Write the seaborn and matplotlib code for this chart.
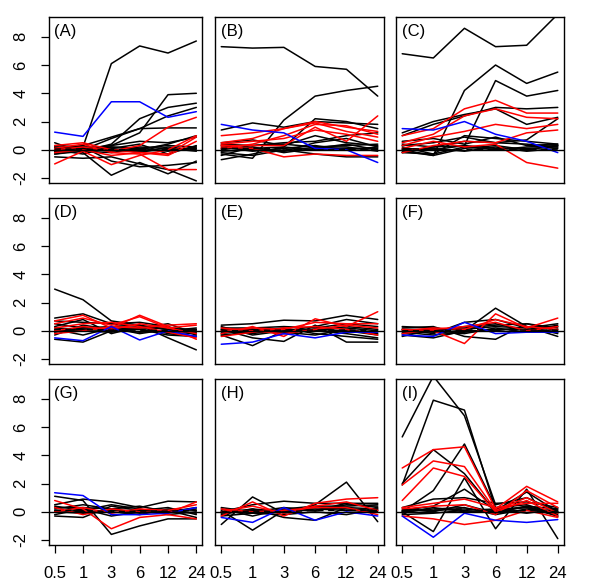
import numpy as np
import pandas as pd
import matplotlib
matplotlib.use("Agg")
import matplotlib.pyplot as plt
import seaborn as sns

# time points (hours) shown on the x axis
times = ["0.5", "1", "3", "6", "12", "24"]
y_ticks = [-2, 0, 2, 4, 6, 8]

# ---- panel A ----
A_black = [
    [-0.1, 0.2, 6.1, 7.35, 6.85, 7.7],
    [0.0, 0.1, 0.3, 1.2, 3.9, 4.0],
    [0.2, -0.1, 0.4, 2.2, 3.0, 3.3],
    [-0.3, 0.0, 0.8, 1.5, 2.4, 3.0],
    [0.1, 0.3, 0.9, 1.5, 1.55, 1.55],
    [0.5, -0.2, -1.8, -0.9, -1.7, -0.8],
    [-0.5, -0.6, -0.5, -1.0, -1.4, -2.2],
    [-0.2, 0.2, -0.8, -1.2, -1.1, -0.9],
    [0.1, 0.0, 0.2, 0.1, 0.3, 0.2],
    [-0.1, 0.1, 0.0, -0.1, 0.0, 0.1],
    [0.3, 0.2, 0.1, 0.4, -0.3, 0.3],
    [0.0, -0.3, 0.2, 0.0, 0.4, 1.0],
    [0.2, 0.1, -0.1, 0.2, 0.1, -0.1],
    [-0.3, -0.1, 0.3, 0.6, 0.5, 0.9],
    [0.0, 0.2, 0.1, -0.2, 0.2, 0.0],
    [0.1, -0.1, -0.2, 0.1, -0.1, 0.2],
]
A_red = [
    [0.0, 0.2, -0.1, 0.3, 1.6, 2.3],
    [-1.0, -0.1, -1.05, -0.4, 0.0, 1.0],
    [0.1, 0.4, -0.2, -0.3, -1.4, -1.4],
    [0.3, 0.5, 0.0, -0.2, -0.3, 0.9],
    [-0.2, 0.0, -0.4, -0.2, -0.4, 0.6],
]
A_blue = [[1.25, 0.95, 3.4, 3.4, 2.3, 2.7]]
A_dash = [0.05, 0.05, 0.0, 0.0, 0.0, 0.1]

# ---- panel B ----
B_black = [
    [7.3, 7.2, 7.25, 5.9, 5.7, 3.8],
    [-0.3, -0.6, 2.1, 3.8, 4.2, 4.5],
    [1.4, 1.9, 1.6, 2.0, 1.9, 1.8],
    [-0.7, -0.3, 0.2, 2.2, 2.0, 1.5],
    [0.4, 0.3, 0.5, 0.6, 1.0, 1.2],
    [0.2, -0.1, 0.1, 0.3, 0.0, 0.2],
    [-0.4, 0.2, -0.2, 0.1, 0.4, 0.0],
    [0.0, 0.3, 0.4, 0.2, 0.3, 0.4],
    [-0.2, -0.4, 0.0, -0.3, -0.5, -0.5],
    [0.5, 0.7, 0.3, 1.0, 0.5, 0.3],
    [0.3, 0.0, -0.1, 0.5, 0.8, 0.2],
    [0.1, 0.1, 0.2, 0.0, 0.1, 0.1],
    [-0.1, 0.0, -0.1, 0.2, 0.2, -0.1],
]
B_red = [
    [1.0, 1.2, 1.5, 2.0, 1.6, 1.3],
    [0.5, 0.8, 1.5, 1.9, 1.3, 0.9],
    [0.3, 0.3, 0.3, 1.6, 0.6, 2.4],
    [0.2, 0.1, -0.5, -0.3, -0.4, -0.4],
    [0.4, 0.6, 0.8, 1.4, 1.1, 0.6],
    [0.1, 0.4, 1.0, 1.8, 1.7, 1.1],
]
B_blue = [[1.8, 1.4, 1.2, 0.1, 0.0, -0.9]]
B_dash = [0.1, 0.1, 0.05, 0.0, 0.0, 0.0]

# ---- panel C ----
C_black = [
    [6.8, 6.5, 8.6, 7.3, 7.4, 9.6],
    [0.0, -0.4, 4.2, 6.0, 4.7, 5.5],
    [-0.2, 0.2, 0.3, 4.9, 3.8, 4.2],
    [1.0, 1.8, 2.4, 3.0, 2.9, 3.0],
    [1.2, 2.0, 2.5, 2.9, 1.8, 2.3],
    [0.3, 0.5, 0.9, 0.5, 0.7, 2.2],
    [0.2, -0.3, 1.0, 0.8, 0.6, 0.4],
    [-0.1, -0.4, 0.1, 0.3, 0.0, 0.3],
    [0.4, 0.2, 0.6, 0.5, 0.4, 0.2],
    [0.0, 0.1, -0.1, 0.2, -0.1, 0.1],
    [0.6, 0.8, 0.4, 0.9, 0.3, 0.4],
    [-0.2, -0.3, 0.2, 0.0, 0.2, 0.3],
    [0.1, 0.0, 0.3, 0.1, 0.1, 0.2],
]
C_red = [
    [1.0, 1.5, 2.9, 3.5, 2.6, 2.6],
    [0.5, 1.1, 2.4, 2.9, 2.3, 2.2],
    [0.3, 0.9, 1.3, 1.8, 1.5, 1.8],
    [0.1, 0.6, 0.2, 0.4, -0.9, -1.3],
    [-0.2, 0.3, 0.6, 0.5, 1.2, 1.4],
]
C_blue = [[1.5, 1.4, 2.0, 1.1, 0.6, -0.2]]
C_dash = [0.1, 0.0, 0.0, 0.05, 0.0, 0.05]

# ---- panel D ----
D_black = [
    [2.95, 2.2, 0.7, 0.4, -0.5, -1.35],
    [0.9, 1.2, 0.5, 0.6, 0.3, -0.3],
    [-0.6, -0.8, 0.0, 0.2, 0.5, -0.2],
    [0.3, 0.8, -0.2, 0.3, 0.1, 0.1],
    [0.1, -0.3, 0.2, 0.1, -0.3, -0.4],
    [-0.3, 0.4, 0.1, -0.1, 0.0, 0.2],
    [0.5, 0.2, 0.3, 0.4, 0.1, -0.1],
    [0.0, 0.0, -0.1, 0.2, 0.2, 0.0],
    [0.7, 0.6, 0.5, 0.3, -0.2, -0.4],
    [0.2, 0.1, 0.0, 0.1, -0.1, -0.2],
    [-0.1, 0.2, 0.2, -0.2, 0.1, 0.1],
]
D_red = [
    [0.7, 1.1, 0.2, 1.1, 0.3, -0.6],
    [0.5, 0.9, 0.4, 1.0, 0.2, 0.4],
    [0.2, 0.5, 0.6, 0.3, -0.1, -0.5],
    [0.0, 0.3, 0.1, 0.5, 0.2, -0.2],
    [-0.2, 0.0, 0.3, 0.2, 0.4, 0.5],
]
D_blue = [[-0.5, -0.7, 0.3, -0.65, 0.0, -0.4]]
D_dash = [0.1, 0.1, 0.05, 0.05, 0.0, 0.0]

# ---- panel E ----
E_black = [
    [0.4, 0.5, 0.75, 0.7, 1.1, 0.8],
    [-0.3, -1.05, 0.0, 0.3, 0.8, 0.5],
    [0.1, -0.5, -0.75, 0.4, -0.8, -0.8],
    [0.2, 0.2, 0.3, 0.2, 0.5, 0.3],
    [0.0, -0.2, 0.1, 0.0, -0.2, -0.5],
    [-0.2, 0.1, -0.1, -0.3, 0.1, -0.2],
    [0.3, -0.3, 0.0, 0.1, 0.2, 0.0],
    [-0.1, 0.0, 0.2, -0.2, -0.4, -0.6],
    [0.1, 0.1, -0.2, 0.1, 0.0, -0.3],
    [-0.3, -0.1, 0.1, 0.0, 0.3, 0.1],
]
E_red = [
    [-0.2, 0.3, -0.4, 0.85, 0.3, 1.35],
    [0.0, 0.2, 0.1, 0.6, 0.5, 0.5],
    [-0.4, -0.1, 0.2, 0.3, 0.1, -0.3],
    [0.2, 0.0, -0.2, 0.1, 0.4, 0.2],
]
E_blue = [[-0.95, -0.8, -0.2, -0.5, -0.1, -0.1]]
E_dash = [0.0, 0.0, 0.05, 0.05, 0.05, 0.0]

# ---- panel F ----
F_black = [
    [-0.3, -0.5, 0.0, 1.6, 0.3, -0.4],
    [0.2, 0.3, -0.4, -0.6, 0.5, 0.2],
    [0.1, -0.2, 0.6, 0.8, 0.2, 0.5],
    [-0.4, 0.1, 0.2, 0.4, 0.5, 0.0],
    [0.0, -0.1, -0.2, 0.2, -0.1, 0.1],
    [0.3, 0.2, 0.0, 0.0, 0.3, -0.2],
    [-0.2, 0.0, 0.3, 0.5, 0.0, 0.4],
    [0.1, 0.1, 0.1, 0.3, 0.2, 0.3],
    [-0.1, -0.3, -0.1, 0.1, 0.1, -0.1],
]
F_red = [
    [0.1, 0.0, -0.9, 1.2, 0.2, 0.9],
    [0.0, 0.2, 0.1, 0.8, 0.3, 0.1],
    [-0.2, 0.1, 0.3, 0.6, 0.0, 0.3],
]
F_blue = [[-0.3, -0.4, 0.6, -0.2, -0.1, -0.1]]
F_dash = [0.0, 0.0, 0.05, 0.1, 0.05, 0.05]

# ---- panel G ----
G_black = [
    [1.1, 0.8, -1.6, -1.0, -0.5, -0.5],
    [0.5, 0.9, 0.7, 0.3, 0.75, 0.7],
    [-0.3, -0.4, 0.4, 0.1, 0.3, -0.2],
    [0.2, 0.5, 0.2, 0.4, 0.0, 0.3],
    [0.0, -0.1, 0.0, -0.2, 0.2, 0.1],
    [0.4, 0.1, 0.5, 0.2, -0.2, 0.0],
    [-0.2, 0.2, -0.3, 0.0, 0.1, -0.4],
    [0.1, 0.0, 0.1, 0.1, 0.0, 0.2],
    [0.3, 0.3, 0.2, -0.1, 0.1, -0.1],
]
G_red = [
    [0.8, 0.2, -1.2, -0.4, -0.2, -0.5],
    [0.3, -0.2, 0.2, 0.0, -0.1, 0.7],
    [0.0, 0.3, -0.1, 0.2, 0.1, 0.5],
]
G_blue = [[1.35, 1.15, -0.2, -0.2, -0.1, 0.3]]
G_dash = [0.1, 0.1, 0.0, 0.05, 0.05, 0.1]

# ---- panel H ----
H_black = [
    [-0.9, 1.05, -0.1, 0.5, 2.1, -0.7],
    [0.1, -1.3, 0.1, 0.1, 0.5, 0.4],
    [0.0, 0.5, 0.75, 0.6, 0.6, 0.6],
    [-0.2, 0.2, -0.4, -0.6, 0.3, 0.2],
    [0.2, -0.3, 0.2, 0.4, 0.4, 0.5],
    [-0.1, 0.2, 0.0, 0.2, 0.1, 0.0],
    [0.3, 0.0, 0.3, 0.1, 0.6, 0.3],
    [-0.3, -0.1, -0.2, 0.0, -0.2, 0.2],
    [0.0, 0.1, 0.1, 0.3, 0.2, 0.1],
]
H_red = [
    [-0.3, 0.7, -0.3, 0.6, 0.9, 1.0],
    [0.0, 0.4, -0.1, 0.4, 0.7, 0.1],
    [0.2, 0.0, 0.1, 0.3, 0.3, -0.2],
]
H_blue = [[-0.4, -0.75, 0.3, -0.6, 0.0, -0.3]]
H_dash = [0.0, 0.05, 0.0, 0.1, 0.1, 0.1]

# ---- panel I ----
I_black = [
    [5.3, 9.6, 6.8, 0.5, 1.0, 0.0],
    [1.9, 7.9, 7.2, 0.2, 0.3, -0.3],
    [0.0, 1.5, 4.8, 0.3, 0.5, -0.2],
    [0.0, -1.4, 2.4, -1.2, 1.6, -1.9],
    [2.0, 4.4, 2.7, 0.0, 0.4, 0.2],
    [0.3, 0.9, 1.0, 0.6, 0.7, 0.3],
    [0.1, 0.4, 1.6, 0.1, 1.4, 0.0],
    [0.0, 0.2, 0.3, -0.2, 0.2, -0.1],
    [-0.2, -0.1, 0.1, 0.2, -0.1, 0.2],
    [0.2, 0.0, 0.5, -0.1, 0.4, -0.3],
    [-0.1, 0.3, 0.0, 0.0, 0.1, 0.1],
    [0.1, 0.1, 0.2, 0.1, 0.3, 0.0],
]
I_red = [
    [3.1, 4.4, 4.6, 0.2, 1.8, 0.7],
    [1.9, 3.6, 3.2, 0.1, 1.0, -0.1],
    [0.8, 3.1, 2.5, 0.0, 0.8, -0.3],
    [0.3, 0.6, 0.9, 0.3, 0.6, 0.6],
    [-0.3, -0.5, -0.9, -0.6, 0.1, -0.4],
    [0.2, 0.4, 0.5, -0.2, 1.5, 0.3],
]
I_blue = [[-0.3, -1.8, -0.1, -0.6, -0.75, -0.55]]
I_dash = [0.1, 0.2, 0.2, 0.0, 0.1, 0.0]

panels = [
    ("(A)", A_black, A_red, A_blue, A_dash),
    ("(B)", B_black, B_red, B_blue, B_dash),
    ("(C)", C_black, C_red, C_blue, C_dash),
    ("(D)", D_black, D_red, D_blue, D_dash),
    ("(E)", E_black, E_red, E_blue, E_dash),
    ("(F)", F_black, F_red, F_blue, F_dash),
    ("(G)", G_black, G_red, G_blue, G_dash),
    ("(H)", H_black, H_red, H_blue, H_dash),
    ("(I)", I_black, I_red, I_blue, I_dash),
]


def long_table(black, red, blue):
    rows = []
    uid = 0
    for colour, group in [("black", black), ("red", red), ("blue", blue)]:
        for series in group:
            for i, v in enumerate(series):
                rows.append({"pos": i, "value": v, "id": uid, "colour": colour})
            uid += 1
    return pd.DataFrame(rows)


sns.set_style("white", {
    "text.color": "black",
    "xtick.color": "black",
    "ytick.color": "black",
    "axes.edgecolor": "black",
    "axes.labelcolor": "black",
})
plt.rcParams["font.family"] = ["Liberation Sans", "DejaVu Sans"]

fig = plt.figure(figsize=(6.0, 5.87), dpi=100)
W, H = 600.0, 587.0

# pixel boxes of the 3x3 grid (first column narrower, y-axis only on the left)
col_left = [49, 215, 396]
col_width = [153, 169, 168]
row_top = [17, 198, 379]
row_height = 166

for k, (label, black, red, blue, dash) in enumerate(panels):
    r, c = divmod(k, 3)
    ax = fig.add_axes([
        col_left[c] / W,
        1 - (row_top[r] + row_height) / H,
        col_width[c] / W,
        row_height / H,
    ])
    df = long_table(black, red, blue)
    sns.lineplot(
        data=df, x="pos", y="value", units="id", estimator=None,
        hue="colour", hue_order=["black", "red", "blue"],
        palette={"black": "black", "red": "#ff0000", "blue": "#0000ff"},
        linewidth=1.1, legend=False, ax=ax,
    )
    ax.plot(range(len(times)), dash, color="black", linestyle=(0, (4, 3)), linewidth=1.1)
    ax.axhline(0, color="black", linewidth=1.0)

    ax.set_xlim(-0.2, len(times) - 0.8)
    ax.set_ylim(-2.35, 9.4)
    ax.set_xlabel("")
    ax.set_ylabel("")
    for s in ax.spines.values():
        s.set_visible(True)
        s.set_color("black")
        s.set_linewidth(1.0)

    ax.text(0.035, 0.96, label, transform=ax.transAxes, ha="left", va="top",
            fontsize=12, color="black")

    ax.tick_params(direction="out", length=6, width=0.9, color="black",
                   labelcolor="black", labelsize=12)
    if r == 2:
        ax.set_xticks(range(len(times)))
        ax.set_xticklabels(times)
        ax.tick_params(axis="x", pad=9, bottom=True)
    else:
        ax.set_xticks([])
    if c == 0:
        ax.set_yticks(y_ticks)
        ax.set_yticklabels([str(v) for v in y_ticks], rotation=90, va="center")
        ax.tick_params(axis="y", pad=9, left=True)
    else:
        ax.set_yticks([])

fig.savefig("out.png", dpi=100, facecolor="white")
